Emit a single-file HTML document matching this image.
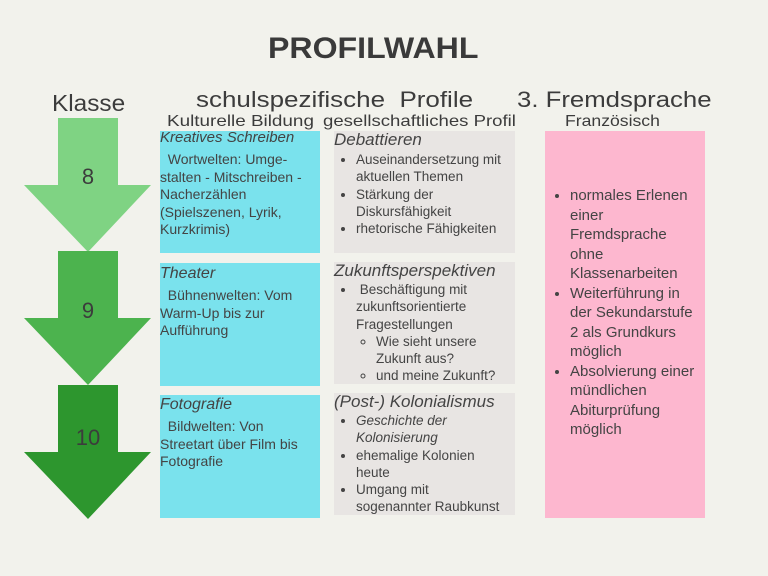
<!DOCTYPE html>
<html><head><meta charset="utf-8"><style>
body{margin:0;width:768px;height:576px;background:#f2f2ec;position:relative;overflow:hidden;font-family:"Liberation Sans",sans-serif;color:#3c3c3c}
.a{position:absolute;white-space:nowrap;transform-origin:0 0}
.box{position:absolute}
.t{position:absolute;font-size:14px;line-height:17.5px;color:#444}
.t ul{margin:2px 0 0 0;padding-left:22px}
.t ul ul{padding-left:20px;margin:0;list-style:circle}
.h{font-style:italic;font-size:16px;line-height:19px;margin-bottom:3px}
</style></head><body>
<div class="a" style="left:268px;top:32px;font-size:30px;font-weight:bold;color:#3a3a3a;transform:scaleX(1.07)">PROFILWAHL</div>
<div class="a" style="left:52px;top:90px;font-size:23px;transform:scaleX(1.06)">Klasse</div>
<div class="a" style="left:196px;top:87px;font-size:22px;transform:scaleX(1.18)">schulspezifische&nbsp; Profile</div>
<div class="a" style="left:517px;top:87px;font-size:22px;transform:scaleX(1.17)">3. Fremdsprache</div>
<div class="a" style="left:167px;top:113px;font-size:16px;transform:scaleX(1.18)">Kulturelle Bildung</div>
<div class="a" style="left:323px;top:113px;font-size:16px;transform:scaleX(1.16)">gesellschaftliches Profil</div>
<div class="a" style="left:565px;top:113px;font-size:16px;transform:scaleX(1.1)">Französisch</div>
<svg class="a" style="left:0;top:0" width="768" height="576">
<polygon points="58,118 118,118 118,185 151,185 88,252 24,185 58,185" fill="#7fd383"/>
<polygon points="58,251 118,251 118,318 151,318 88,385 24,318 58,318" fill="#4cb34e"/>
<polygon points="58,385 118,385 118,452 151,452 88,519 24,452 58,452" fill="#2d962e"/>
<text x="88" y="184" font-size="22" text-anchor="middle" fill="#3c3c3c" font-family="Liberation Sans">8</text>
<text x="88" y="318" font-size="22" text-anchor="middle" fill="#3c3c3c" font-family="Liberation Sans">9</text>
<text x="88" y="445" font-size="22" text-anchor="middle" fill="#3c3c3c" font-family="Liberation Sans">10</text>
</svg>
<div class="box" style="left:160px;top:131px;width:160px;height:122px;background:#7ae2ed"></div>
<div class="box" style="left:160px;top:263px;width:160px;height:123px;background:#7ae2ed"></div>
<div class="box" style="left:160px;top:395px;width:160px;height:123px;background:#7ae2ed"></div>
<div class="box" style="left:334px;top:131px;width:181px;height:122px;background:#e8e5e3"></div>
<div class="box" style="left:334px;top:262px;width:181px;height:122px;background:#e8e5e3"></div>
<div class="box" style="left:334px;top:393px;width:181px;height:122px;background:#e8e5e3"></div>
<div class="box" style="left:545px;top:131px;width:160px;height:387px;background:#fdb7cf"></div>

<div class="t" style="left:160px;top:129px;width:162px"><div class="h" style="font-size:15px;line-height:17px;margin-bottom:5px">Kreatives Schreiben</div>&nbsp;&nbsp;Wortwelten: Umge-<br>stalten - Mitschreiben -<br>Nacherzählen<br>(Spielszenen, Lyrik,<br>Kurzkrimis)</div>
<div class="t" style="left:160px;top:264px;width:162px"><div class="h" style="margin-bottom:4px">Theater</div>&nbsp;&nbsp;Bühnenwelten: Vom<br>Warm-Up bis zur<br>Aufführung</div>
<div class="t" style="left:160px;top:395px;width:162px"><div class="h" style="margin-bottom:4px">Fotografie</div>&nbsp;&nbsp;Bildwelten: Von<br>Streetart über Film bis<br>Fotografie</div>

<div class="t" style="left:334px;top:130px;width:172px;font-size:13.5px;line-height:17.3px"><div class="h" style="font-size:17px;margin-bottom:1px">Debattieren</div><ul><li>Auseinandersetzung mit aktuellen Themen</li><li>Stärkung der Diskursfähigkeit</li><li>rhetorische Fähigkeiten</li></ul></div>
<div class="t" style="left:334px;top:261px;width:165px;font-size:13.5px;line-height:17.3px"><div class="h" style="font-size:17px;margin-bottom:0">Zukunftsperspektiven</div><ul style="margin-top:1px"><li>&nbsp;Beschäftigung mit zukunftsorientierte Fragestellungen<ul><li>Wie sieht unsere Zukunft aus?</li><li>und meine Zukunft?</li></ul></li></ul></div>
<div class="t" style="left:334px;top:392px;width:181px;font-size:13.5px;line-height:17.3px"><div class="h" style="font-size:17px;margin-bottom:1px">(Post-) Kolonialismus</div><ul style="margin-top:1px"><li><i>Geschichte der<br>Kolonisierung</i></li><li>ehemalige Kolonien<br>heute</li><li>Umgang mit<br><span style="white-space:nowrap">sogenannter Raubkunst</span></li></ul></div>

<div class="t" style="left:548px;top:186px;width:150px;font-size:15px;line-height:19.5px"><ul style="padding-left:22px;margin:0"><li>normales Erlenen<br>einer<br>Fremdsprache<br>ohne<br>Klassenarbeiten</li><li>Weiterführung in der Sekundarstufe 2 als Grundkurs möglich</li><li>Absolvierung einer mündlichen Abiturprüfung möglich</li></ul></div>
</body></html>
